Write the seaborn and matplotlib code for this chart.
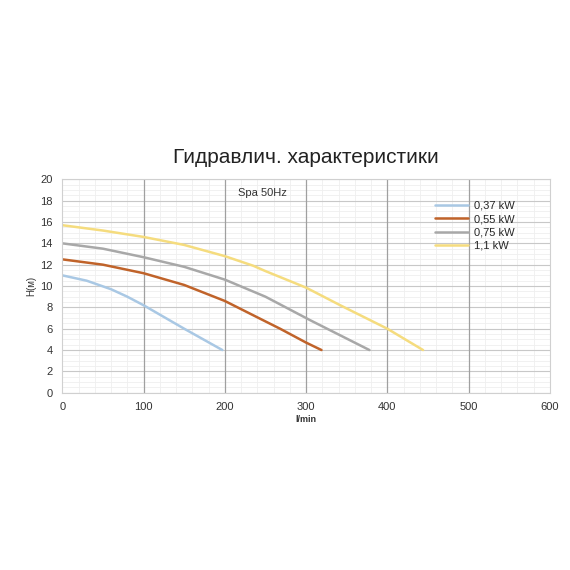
import matplotlib
matplotlib.use("Agg")
import matplotlib.pyplot as plt
from matplotlib.ticker import MultipleLocator, FixedLocator
import seaborn as sns
import pandas as pd

# pump curves (flow l/min, head m)
flow_037 = [0, 30, 60, 80, 100, 150, 197]
head_037 = [11.0, 10.5, 9.7, 9.0, 8.2, 6.0, 4.0]

flow_055 = [0, 50, 100, 150, 200, 247, 268, 300, 319]
head_055 = [12.5, 12.0, 11.2, 10.1, 8.6, 6.8, 6.0, 4.7, 4.0]

flow_075 = [0, 50, 100, 150, 200, 250, 305, 378]
head_075 = [14.0, 13.5, 12.7, 11.8, 10.6, 9.0, 6.8, 4.0]

flow_11 = [0, 50, 100, 150, 200, 235, 250, 300, 342, 400, 444]
head_11 = [15.7, 15.2, 14.6, 13.85, 12.8, 11.9, 11.4, 9.85, 8.2, 6.0, 4.0]

labels = ["0,37 kW", "0,55 kW", "0,75 kW", "1,1 kW"]
colors = ["#a9c8e4", "#c0632a", "#a8a8a8", "#f5dc7e"]

frames = []
for lab, fx, hy in zip(labels,
                       [flow_037, flow_055, flow_075, flow_11],
                       [head_037, head_055, head_075, head_11]):
    frames.append(pd.DataFrame({"flow": fx, "head": hy, "power": lab}))
df = pd.concat(frames, ignore_index=True)

sns.set_style("white")
plt.rcParams["font.family"] = ["Liberation Sans", "DejaVu Sans"]

fig = plt.figure(figsize=(5.7, 5.7), dpi=100)
ax = fig.add_axes([0.1093, 0.311, 0.8553, 0.3744])

sns.lineplot(data=df, x="flow", y="head", hue="power", palette=colors,
             hue_order=labels, linewidth=1.8, sort=False, estimator=None, ax=ax)

ax.set_xlim(0, 600)
ax.set_ylim(0, 20)
ax.xaxis.set_major_locator(MultipleLocator(100))
ax.xaxis.set_minor_locator(FixedLocator([v for v in range(0, 601, 20) if v % 100]))
ax.yaxis.set_major_locator(MultipleLocator(2))
ax.yaxis.set_minor_locator(FixedLocator([v / 2 for v in range(0, 41) if v % 4]))
ax.grid(which="minor", color="#efefef", linewidth=0.6)
ax.grid(which="major", axis="y", color="#c8c8c8", linewidth=0.8)
ax.set_axisbelow(True)
# vertical major lines on top of the fine grid so they stay solid
for v in range(100, 600, 100):
    ax.axvline(v, color="#a0a0a0", linewidth=0.9, zorder=0.8)
ax.tick_params(which="both", length=0, labelsize=8, colors="#333333", pad=7)
for s in ax.spines.values():
    s.set_color("#d0d0d0")
    s.set_linewidth(0.8)

ax.set_xlabel("l/min", fontsize=6.5, fontweight="bold", color="#333333", labelpad=2)
ax.set_ylabel("H(м)", fontsize=7, color="#333333", labelpad=3)

ax.text(216, 18.7, "Spa 50Hz", fontsize=8, color="#333333", va="center")
ax.set_title("Гидравлич. характеристики", fontsize=15, color="#222222", pad=12)

ax.legend(loc="upper left", bbox_to_anchor=(0.755, 0.92), frameon=False,
          fontsize=8, handlelength=3.0, handletextpad=0.5, labelspacing=0.3,
          borderaxespad=0)

fig.savefig("out.png", dpi=100)
